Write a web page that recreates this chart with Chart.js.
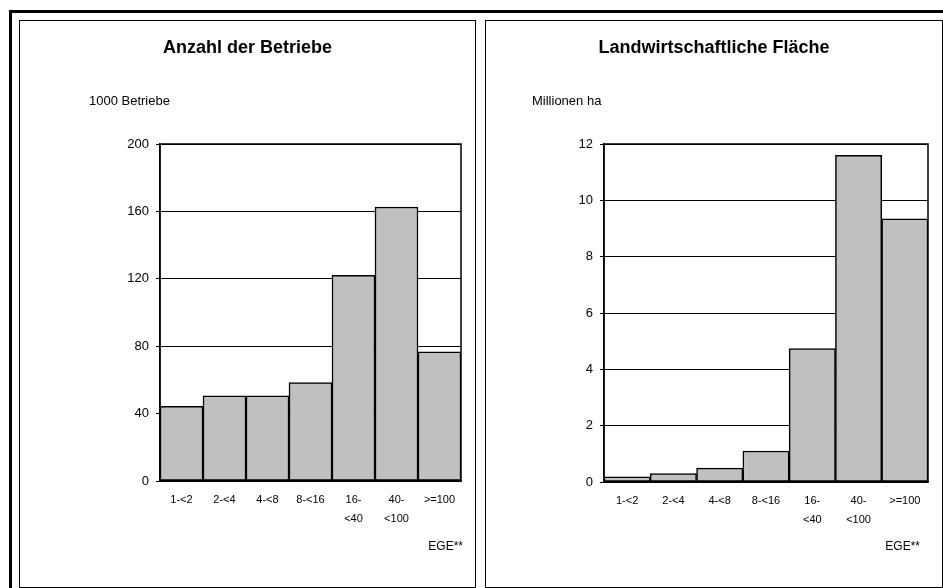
<!DOCTYPE html>
<html>
<head>
<meta charset="utf-8">
<script src="https://cdn.jsdelivr.net/npm/chart.js@4.4.1/dist/chart.umd.min.js"></script>
<style>
  html, body { margin: 0; padding: 0; background: #fff; overflow: hidden; }
  body { width: 943px; height: 588px; position: relative; }
  #frame { position: absolute; left: 9px; top: 10px; width: 960px; height: 600px; border: 3px solid #000; }
  .panel { position: absolute; top: 20px; height: 566px; border: 1px solid #000; background: #fff; }
  .panel canvas { display: block; }
</style>
</head>
<body>
<div id="frame"></div>
<div class="panel" id="p1" style="left:19px; width:455px;"><canvas id="c1"></canvas></div>
<div class="panel" id="p2" style="left:485px; width:456px;"><canvas id="c2"></canvas></div>
<script>
// Größenklassen (EGE)
var categories = [['1-<2'], ['2-<4'], ['4-<8'], ['8-<16'], ['16-', '<40'], ['40-', '<100'], ['>=100']];

// Anzahl der Betriebe, in 1000
var betriebe = [44.3, 50.6, 50.6, 58.4, 122.1, 162.6, 76.6];
var betriebeTicks = [0, 40, 80, 120, 160, 200];

// Landwirtschaftliche Fläche, Millionen ha
var flaeche = [0.18, 0.30, 0.49, 1.10, 4.74, 11.60, 9.34];
var flaecheTicks = [0, 2, 4, 6, 8, 10, 12];

var FONT = '"Liberation Sans", Arial, sans-serif';

Chart.defaults.font.family = FONT;
Chart.defaults.color = '#000';

// draws title, unit label, EGE** and the plot frame
var panelText = {
  id: 'panelText',
  afterDatasetsDraw: function (chart, args, opts) {
    var ctx = chart.ctx, a = chart.chartArea;
    ctx.save();
    ctx.strokeStyle = '#000';
    ctx.lineWidth = 1.5;
    ctx.strokeRect(a.left, a.top, a.right - a.left, a.bottom - a.top);

    ctx.fillStyle = '#000';
    ctx.textBaseline = 'middle';
    ctx.font = 'bold 18px ' + FONT;
    ctx.textAlign = 'center';
    ctx.fillText(opts.title, chart.width / 2, 27);

    ctx.font = '13px ' + FONT;
    ctx.textAlign = 'left';
    ctx.fillText(opts.unit, opts.unitX, 80);

    ctx.font = '12px ' + FONT;
    ctx.textAlign = 'right';
    ctx.fillText('EGE**', opts.egeX, 526);
    ctx.restore();
  }
};

function makeChart(id, w, data, ticks, opts) {
  var canvas = document.getElementById(id);
  canvas.width = w;
  canvas.height = 566;
  canvas.style.width = w + 'px';
  canvas.style.height = '566px';
  return new Chart(canvas, {
    type: 'bar',
    data: {
      labels: categories,
      datasets: [{
        data: data,
        backgroundColor: '#C0C0C0',
        borderColor: '#000',
        borderWidth: 1.5,
        borderSkipped: false,
        barPercentage: 1,
        categoryPercentage: 1
      }]
    },
    options: {
      responsive: false,
      animation: false,
      devicePixelRatio: 1,
      layout: { padding: { top: opts.top, right: opts.right, bottom: 0, left: 0 } },
      plugins: {
        legend: { display: false },
        tooltip: { enabled: false },
        panelText: opts.text
      },
      scales: {
        x: {
          grid: { display: false },
          border: { display: true, color: '#000', width: 1.5 },
          ticks: { font: { size: 11, lineHeight: 1.7 }, padding: 2, maxRotation: 0, autoSkip: false },
          afterFit: function (s) { s.height = 566 - opts.bottom; }
        },
        y: {
          min: ticks[0],
          max: ticks[ticks.length - 1],
          afterBuildTicks: function (s) {
            s.ticks = ticks.map(function (v) { return { value: v }; });
          },
          grid: { color: '#000', lineWidth: 1, tickLength: 4 },
          border: { display: true, color: '#000', width: 1.5 },
          ticks: { font: { size: 13 }, padding: 7 },
          afterFit: function (s) { s.width = opts.left; }
        }
      }
    },
    plugins: [panelText]
  });
}

makeChart('c1', 455, betriebe, betriebeTicks, {
  left: 140, right: 14, top: 123, bottom: 460,
  text: { title: 'Anzahl der Betriebe', unit: '1000 Betriebe', unitX: 69, egeX: 443 }
});

makeChart('c2', 456, flaeche, flaecheTicks, {
  left: 118, right: 14, top: 123, bottom: 461,
  text: { title: 'Landwirtschaftliche Fläche', unit: 'Millionen ha', unitX: 46, egeX: 434 }
});
</script>
</body>
</html>
